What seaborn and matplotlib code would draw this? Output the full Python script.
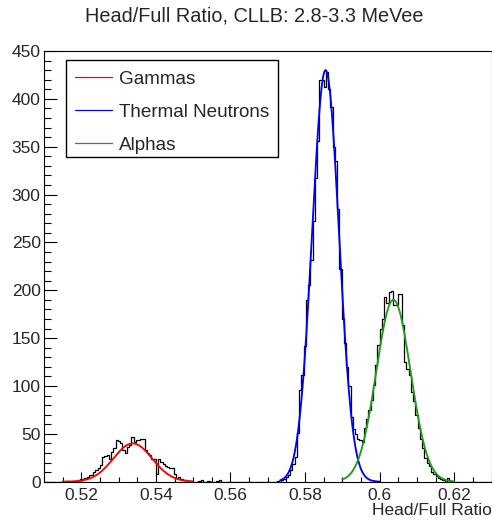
import numpy as np
import pandas as pd
import matplotlib
matplotlib.use("Agg")
import matplotlib.pyplot as plt
from matplotlib.lines import Line2D
from matplotlib.patches import Rectangle
from matplotlib.ticker import MultipleLocator, FixedLocator
import seaborn as sns

# ---------------- data ----------------
x_min, x_max, n_bins = 0.51, 0.63, 200

counts = [
    0, 0, 0, 0, 0, 0, 0, 0, 0, 0,
    1, 0, 0, 1, 1, 2, 3, 3, 4, 5,
    7, 7, 10, 12, 14, 17, 26, 27, 28, 24,
    31, 35, 44, 43, 40, 33, 30, 36, 38, 47,
    41, 44, 44, 45, 45, 33, 30, 28, 24, 24,
    8, 24, 21, 18, 16, 15, 14, 14, 8, 4,
    5, 3, 2, 2, 1, 1, 0, 0, 0, 1,
    2, 0, 0, 1, 0, 0, 0, 1, 2, 0,
    0, 0, 0, 0, 0, 0, 0, 0, 0, 0,
    0, 0, 0, 0, 0, 0, 0, 0, 0, 0,
    0, 0, 0, 0, 1, 0, 2, 3, 5, 7,
    12, 18, 26, 51, 96, 112, 142, 190, 205, 232,
    272, 317, 356, 420, 420, 412, 428, 410, 392, 350,
    335, 285, 222, 170, 145, 120, 100, 68, 55, 50,
    45, 44, 42, 56, 66, 75, 85, 101, 122, 143,
    160, 170, 193, 187, 198, 199, 185, 185, 196, 196,
    164, 125, 118, 112, 94, 84, 70, 56, 45, 35,
    25, 20, 16, 10, 8, 6, 4, 3, 2, 0,
    4, 1, 0, 0, 0, 0, 0, 0, 0, 0,
    0, 0, 0, 0, 0, 0, 0, 0, 0, 0,
]

fit_names = ["Gammas", "Thermal Neutrons", "Alphas"]
fit_colors = ["#ff0000", "#0000ff", "#1f9a1f"]
fit_amp = [40.0, 430.0, 190.0]
fit_mean = [0.5338, 0.5855, 0.6037]
fit_sigma = [0.0052, 0.0036, 0.0046]
fit_lo = [0.515, 0.5733, 0.590]
fit_hi = [0.550, 0.600, 0.620]

x_ticks = [0.52, 0.54, 0.56, 0.58, 0.60, 0.62]
x_tick_labels = ["0.52", "0.54", "0.56", "0.58", "0.6", "0.62"]
y_ticks = [0, 50, 100, 150, 200, 250, 300, 350, 400, 450]

title = "Head/Full Ratio, CLLB: 2.8-3.3 MeVee"
x_label = "Head/Full Ratio"

# ---------------- style ----------------
sns.set_style("white")
plt.rcParams["font.family"] = ["Liberation Sans", "DejaVu Sans"]

W, H = 492, 529
fig = plt.figure(figsize=(W / 100, H / 100), dpi=100)
ax = fig.add_axes([44 / W, 1 - 481.7 / H, (491.5 - 44) / W, (481.7 - 51) / H])

bin_w = (x_max - x_min) / n_bins
centers = [x_min + (k + 0.5) * bin_w for k in range(n_bins)]
df = pd.DataFrame({"x": centers, "w": counts})
sns.histplot(data=df, x="x", weights="w", bins=n_bins,
             binrange=(x_min, x_max), element="step",
             fill=False, color="black", linewidth=0.9, ax=ax)

handles = []
for name, c, a, m, s, lo, hi in zip(fit_names, fit_colors, fit_amp, fit_mean,
                                     fit_sigma, fit_lo, fit_hi):
    xs = np.linspace(lo, hi, 400)
    ys = a * np.exp(-0.5 * ((xs - m) / s) ** 2)
    sns.lineplot(x=xs, y=ys, color=c, linewidth=1.35, ax=ax)
    handles.append(Line2D([], [], color=c, linewidth=0.9))

ax.set_xlim(x_min, x_max)
ax.set_ylim(0, 450)
ax.set_xlabel("")
ax.set_ylabel("")
ax.grid(False)

ax.xaxis.set_major_locator(FixedLocator(x_ticks))
ax.set_xticklabels(x_tick_labels)
ax.xaxis.set_minor_locator(MultipleLocator(0.005))
ax.yaxis.set_major_locator(FixedLocator(y_ticks))
ax.yaxis.set_minor_locator(MultipleLocator(10))

ax.tick_params(which="both", direction="in", top=False, right=False,
               bottom=True, left=True, labelsize=12.5, color="black")
ax.tick_params(axis="x", which="major", length=7.2, width=0.8, pad=4.5)
ax.tick_params(axis="x", which="minor", length=3.6, width=0.8)
ax.tick_params(axis="y", which="major", length=9.4, width=0.8, pad=2.4)
ax.tick_params(axis="y", which="minor", length=5.0, width=0.8)
for sp in ax.spines.values():
    sp.set_visible(True)
    sp.set_color("black")
    sp.set_linewidth(0.8)

leg = ax.legend(handles, fit_names, loc="upper left",
                bbox_to_anchor=(0.047, 0.979), fontsize=13.6, frameon=False,
                borderpad=0.55, labelspacing=0.84, handlelength=1.95,
                handletextpad=0.35, borderaxespad=0)

# legend box (ROOT-style TLegend frame)
bx0, bx1 = (66 - 44) / 447.5, (278 - 44) / 447.5
by0, by1 = (481.7 - 157) / 430.7, (481.7 - 60) / 430.7
ax.add_patch(Rectangle((bx0, by0), bx1 - bx0, by1 - by0, transform=ax.transAxes,
                       fill=True, facecolor="white", edgecolor="black",
                       linewidth=1.0, zorder=4))
leg.set_zorder(5)

fig.text(0.517, 1 - 16 / H, title, ha="center", va="center", fontsize=14.3)
fig.text(491.5 / W, 1 - 510.7 / H, x_label, ha="right", va="center",
         fontsize=12.5)

fig.savefig("out.png", dpi=100)
